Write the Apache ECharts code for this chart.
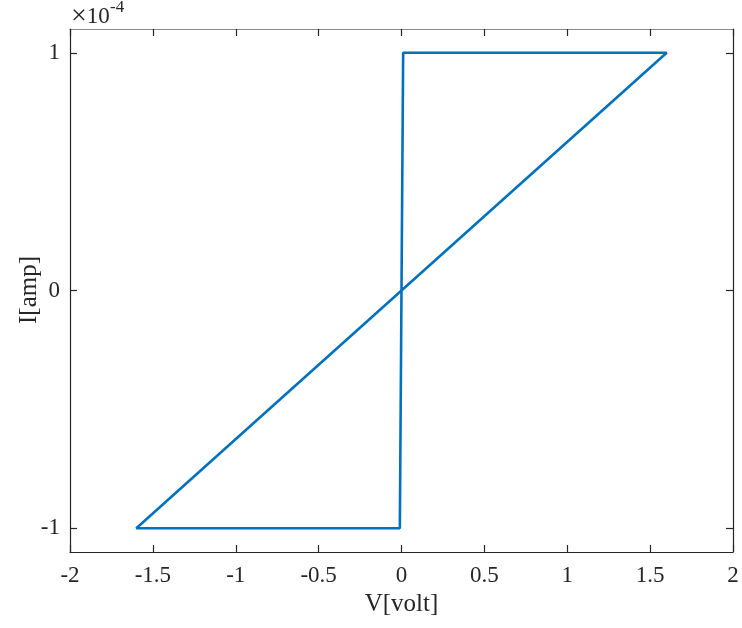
<!DOCTYPE html>
<html>
<head>
<meta charset="utf-8">
<script src="https://cdn.jsdelivr.net/npm/echarts@6/dist/echarts.min.js"></script>
<style>
  html, body { margin: 0; padding: 0; background: #fff; }
  #chart { width: 742px; height: 628px; }
</style>
</head>
<body>
<div id="chart"></div>
<script>
// I–V hysteresis loop; current values are in units of 1e-4 A
const voltage = [0, 1.6, 0.01, -0.01, -1.6, 0];
const current = [0, 1, 1, -1, -1, 0];
const yTickValues = [-1, 0, 1];
const xTickInterval = 0.5;

const FONT = '"Liberation Serif", "Times New Roman", serif';
const AXIS_COLOR = '#262626';
const TICK_SIZE = 23;
const NAME_SIZE = 25;

const loop = voltage.map((v, i) => [v, current[i]]);

const chart = echarts.init(document.getElementById('chart'), null, { renderer: 'canvas' });

const commonX = {
  type: 'value', min: -2, max: 2, interval: xTickInterval,
  splitLine: { show: false },
  axisTick: { inside: true, length: 7, lineStyle: { color: AXIS_COLOR, width: 1.2 } }
};
const commonY = {
  type: 'value', min: -1.1, max: 1.1,
  splitLine: { show: false },
  axisTick: { inside: true, length: 7, customValues: yTickValues, lineStyle: { color: AXIS_COLOR, width: 1.2 } }
};

chart.setOption({
  animation: false,
  backgroundColor: '#fff',
  grid: { left: 70, right: 9, top: 29, bottom: 76, containLabel: false, outerBoundsMode: 'none' },
  xAxis: [
    Object.assign({}, commonX, {
      position: 'bottom',
      name: 'V[volt]', nameLocation: 'middle', nameGap: 40,
      nameTextStyle: { fontFamily: FONT, fontSize: NAME_SIZE, color: AXIS_COLOR },
      axisLine: { onZero: false, lineStyle: { color: AXIS_COLOR, width: 1.2 } },
      axisLabel: { margin: 12, fontFamily: FONT, fontSize: TICK_SIZE, color: AXIS_COLOR }
    }),
    Object.assign({}, commonX, {
      position: 'top',
      axisLine: { onZero: false, lineStyle: { color: '#8c8c8c', width: 1.2 } },
      axisLabel: { show: false }
    })
  ],
  yAxis: [
    Object.assign({}, commonY, {
      position: 'left',
      axisLine: { onZero: false, lineStyle: { color: AXIS_COLOR, width: 1.2 } },
      axisLabel: { margin: 10, customValues: yTickValues, fontFamily: FONT, fontSize: TICK_SIZE, color: AXIS_COLOR }
    }),
    Object.assign({}, commonY, {
      position: 'right',
      axisLine: { onZero: false, lineStyle: { color: AXIS_COLOR, width: 1.2 } },
      axisLabel: { show: false }
    })
  ],
  graphic: [
    {
      // y-axis title, rotated to read bottom-to-top
      type: 'text', x: 29, y: 290, rotation: Math.PI / 2,
      style: {
        text: 'I[amp]', fontFamily: FONT, fontSize: NAME_SIZE, fill: AXIS_COLOR,
        align: 'center', verticalAlign: 'middle'
      }
    },
    {
      type: 'text', left: 71, top: 3,
      style: {
        text: '{x|×}{n|10}',
        rich: {
          x: { fontFamily: FONT, fontSize: 28, fill: AXIS_COLOR },
          n: { fontFamily: FONT, fontSize: TICK_SIZE, fill: AXIS_COLOR }
        }
      }
    },
    {
      type: 'text', left: 110, top: -1,
      style: { text: '-4', fontFamily: FONT, fontSize: 17, fill: AXIS_COLOR }
    }
  ],
  series: [{
    type: 'line',
    data: loop,
    xAxisIndex: 0, yAxisIndex: 0,
    showSymbol: false,
    lineStyle: { color: '#0072BD', width: 2.6 },
    silent: true
  }]
});
</script>
</body>
</html>
